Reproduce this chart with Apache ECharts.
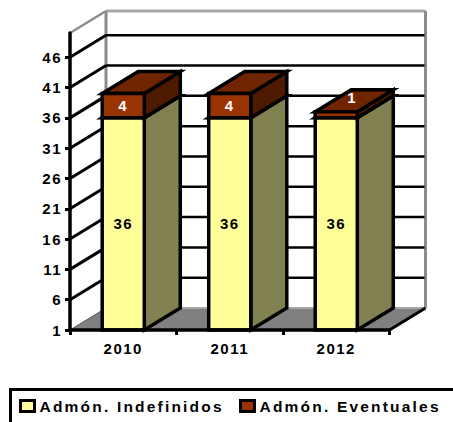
<!DOCTYPE html>
<html>
<head>
<meta charset="utf-8">
<style>
  html, body { margin: 0; padding: 0; background: #fff; }
  #main { width: 453px; height: 422px; }
  #main text { letter-spacing: 1.5px; }
  #main text[style*="15.5px"] { letter-spacing: 2.2px; }
</style>
<script src="https://cdn.jsdelivr.net/npm/echarts@6/dist/echarts.min.js"></script>
</head>
<body>
<div id="main"></div>
<script>
const categories = ['2010', '2011', '2012']
const indefinidos = [36, 36, 36]
const eventuales = [4, 4, 1]
const tickValues = [1, 6, 11, 16, 21, 26, 31, 36, 41, 46]
const axisMin = 1
const axisMax = 50

// depth of the fake 3d box, in pixels
const depthX = 36
const depthY = 22

const chart = echarts.init(document.getElementById('main'), null, { renderer: 'svg' })

function line(x1, y1, x2, y2, stroke, width) {
  return { type: 'line', shape: { x1, y1, x2, y2 }, style: { stroke, lineWidth: width, fill: null } }
}

function poly(points, fill, width) {
  return {
    type: 'polygon',
    shape: { points },
    style: { fill, stroke: '#000', lineWidth: width, lineJoin: 'miter' }
  }
}

// back wall, side wall top edge and floor
function renderWalls(params, api) {
  const lt = api.coord([0, axisMax])
  const lb = api.coord([0, axisMin])
  const x0 = params.coordSys.x
  const x1 = x0 + params.coordSys.width
  const top = lt[1]
  const bottom = lb[1]
  return {
    type: 'group',
    children: [
      { type: 'polygon', shape: { points: [[x0, bottom], [x0 + depthX, bottom - depthY], [x1 + depthX, bottom - depthY], [x1, bottom]] }, style: { fill: '#808080' } },
      line(x0 + depthX, bottom - depthY, x1 + depthX, bottom - depthY, '#a6a6a6', 2),
      line(x0, bottom, x0 + depthX, bottom - depthY, '#555', 1),
      line(x0 + depthX, top - depthY, x1 + depthX, top - depthY, '#a6a6a6', 3),
      line(x0 + depthX, top - depthY, x0 + depthX, bottom - depthY, '#8c8c8c', 3),
      line(x1 + depthX, top - depthY, x1 + depthX, bottom - depthY, '#8c8c8c', 3),
      line(x0, top, x0 + depthX, top - depthY, '#8c8c8c', 2.5),
      line(x1, bottom, x1 + depthX, bottom - depthY, '#000', 3)
    ]
  }
}

// one grid line on the side wall and on the back wall
function renderGrid(params, api) {
  const v = api.value(0)
  if (v === axisMin) return { type: 'group', children: [] }
  const y = api.coord([0, v])[1]
  const x0 = params.coordSys.x
  const x1 = x0 + params.coordSys.width
  return {
    type: 'group',
    children: [
      line(x0, y, x0 + depthX, y - depthY, '#000', 3),
      line(x0 + depthX, y - depthY, x1 + depthX - 1, y - depthY, '#000', 2.5)
    ]
  }
}

function barRenderer(frontColor, topColor, sideColor, textColor) {
  return function (params, api) {
    const i = api.value(0)
    const from = api.value(1)
    const to = api.value(2)
    const shown = api.value(3)
    const w = api.size([1, 0])[0] * 0.395
    const cx = api.coord([i, 0])[0]
    const x0 = cx - w / 2
    const x1 = cx + w / 2
    const y0 = api.coord([i, from])[1]
    const y1 = api.coord([i, to])[1]
    // label sits on the top face when the front is too short for it
    const short = y0 - y1 < 14
    const children = [
      poly([[x1, y1], [x1 + depthX, y1 - depthY], [x1 + depthX, y0 - depthY], [x1, y0]], sideColor, 3.5),
      poly([[x0, y1], [x0 + depthX, y1 - depthY], [x1 + depthX, y1 - depthY], [x1, y1]], topColor, 3.5),
      poly([[x0, y0], [x1, y0], [x1, y1], [x0, y1]], frontColor, 3.5),
      {
        type: 'text',
        style: {
          x: short ? cx + depthX / 2 - 2 : cx,
          y: short ? y1 - depthY / 2 - 3 : (y0 + y1) / 2,
          text: String(shown),
          fill: textColor,
          font: 'bold 15px "Liberation Sans", Arial, sans-serif',
          align: 'center',
          verticalAlign: 'middle'
        }
      }
    ]
    return { type: 'group', children }
  }
}

const indefData = categories.map((c, i) => [i, axisMin, indefinidos[i], indefinidos[i]])
const eventData = categories.map((c, i) => [i, indefinidos[i], indefinidos[i] + eventuales[i], eventuales[i]])
const font = { fontFamily: '"Liberation Sans", Arial, sans-serif', fontWeight: 'bold', color: '#000' }

chart.setOption({
  animation: false,
  grid: { left: 70, top: 33, width: 319.5, height: 297 },
  xAxis: {
    type: 'category',
    data: categories,
    z: 5,
    axisLine: { lineStyle: { color: '#000', width: 3.5 } },
    axisTick: { show: true, length: 5, lineStyle: { color: '#000', width: 3 } },
    axisLabel: { ...font, fontSize: 15, margin: 11 },
    splitLine: { show: false }
  },
  yAxis: {
    type: 'value',
    min: axisMin,
    max: axisMax,
    z: 5,
    axisLine: { show: true, lineStyle: { color: '#000', width: 3.5 } },
    axisTick: { show: true, length: 5, customValues: tickValues, lineStyle: { color: '#000', width: 3 } },
    axisLabel: { ...font, fontSize: 15, margin: 8, customValues: tickValues },
    splitLine: { show: false }
  },
  legend: [
    {
      data: ['Admón. Indefinidos'], left: 19, top: 398, padding: 0, itemWidth: 14, itemHeight: 11,
      selectedMode: false, icon: 'rect', itemStyle: { borderColor: '#000', borderWidth: 3 },
      textStyle: { ...font, fontSize: 15.5 }
    },
    {
      data: ['Admón. Eventuales'], left: 239, top: 398, padding: 0, itemWidth: 14, itemHeight: 11,
      selectedMode: false, icon: 'rect', itemStyle: { borderColor: '#000', borderWidth: 3 },
      textStyle: { ...font, fontSize: 15.5 }
    }
  ],
  graphic: [{
    type: 'polyline',
    shape: { points: [[10.5, 422], [10.5, 389.5], [453, 389.5]] },
    style: { stroke: '#000', lineWidth: 3, fill: null }
  }],
  series: [
    { type: 'custom', name: 'walls', silent: true, z: 1, clip: false, renderItem: renderWalls, data: [[0]], encode: { x: -1, y: -1 } },
    { type: 'custom', name: 'grid', silent: true, z: 2, clip: false, renderItem: renderGrid, data: tickValues.map(v => [v]), encode: { x: -1, y: 0 } },
    {
      type: 'custom', name: 'Admón. Indefinidos', silent: true, z: 3, clip: false,
      itemStyle: { color: '#ffff99' },
      renderItem: barRenderer('#ffff99', '#808050', '#808050', '#000'),
      data: indefData, encode: { x: 0, y: [1, 2] }
    },
    {
      type: 'custom', name: 'Admón. Eventuales', silent: true, z: 4, clip: false,
      itemStyle: { color: '#993300' },
      renderItem: barRenderer('#993300', '#702500', '#4d1a00', '#fff'),
      data: eventData, encode: { x: 0, y: [1, 2] }
    }
  ]
})
</script>
</body>
</html>
